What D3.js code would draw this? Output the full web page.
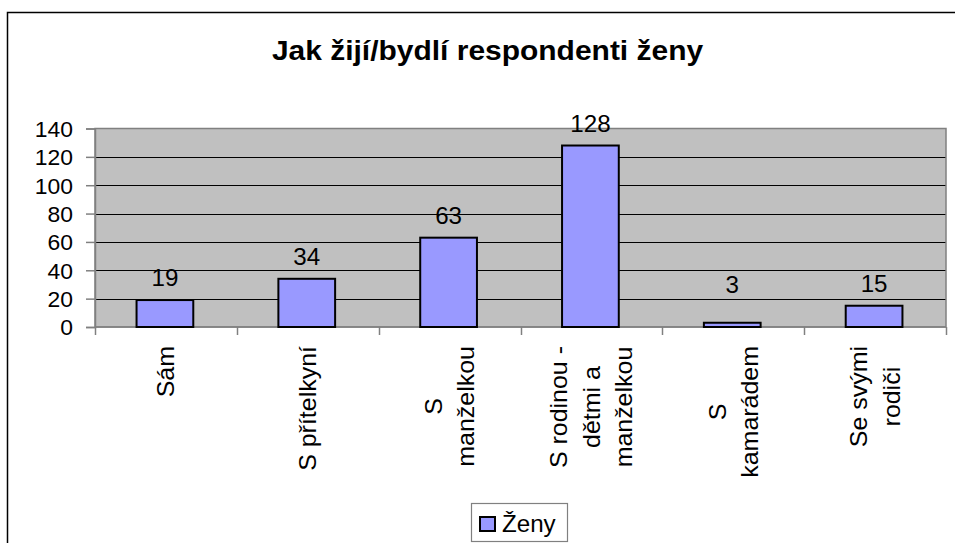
<!DOCTYPE html>
<html>
<head>
<meta charset="utf-8">
<script src="https://cdn.jsdelivr.net/npm/d3@7/dist/d3.min.js"></script>
<style>
  html, body { margin: 0; padding: 0; background: #fff; }
  svg { display: block; }
  text { font-family: "Liberation Sans", Arial, sans-serif; fill: #000; }
</style>
</head>
<body>
<svg id="chart" width="955" height="543"></svg>
<script>
// ---- data ----
const chartTitle = "Jak žijí/bydlí respondenti ženy";
const categories = [
  ["Sám"],
  ["S přítelkyní"],
  ["S", "manželkou"],
  ["S rodinou -", "dětmi a", "manželkou"],
  ["S", "kamarádem"],
  ["Se svými", "rodiči"]
];
const seriesName = "Ženy";
const values = [19, 34, 63, 128, 3, 15];
const yTicks = [0, 20, 40, 60, 80, 100, 120, 140];

// ---- layout ----
const W = 955, H = 543;
const plot = { left: 95, right: 946, top: 128.5, bottom: 327 };
const svg = d3.select("#chart");

// outer chart border
svg.append("rect")
  .attr("x", 7.5).attr("y", 12.5)
  .attr("width", W + 20).attr("height", H + 20)
  .attr("fill", "#fff").attr("stroke", "#000").attr("stroke-width", 1.5);

const x = d3.scaleBand()
  .domain(d3.range(categories.length))
  .range([plot.left, plot.right])
  .padding(0);
const y = d3.scaleLinear().domain([0, 140]).range([plot.bottom, plot.top]);

// plot background
svg.append("rect")
  .attr("x", plot.left).attr("y", plot.top)
  .attr("width", plot.right - plot.left).attr("height", plot.bottom - plot.top)
  .attr("fill", "#C0C0C0");

// gridlines
svg.append("g").selectAll("line")
  .data(yTicks.filter(t => t > 0 && t < 140))
  .join("line")
  .attr("x1", plot.left).attr("x2", plot.right)
  .attr("y1", d => Math.round(y(d)) + 0.5).attr("y2", d => Math.round(y(d)) + 0.5)
  .attr("stroke", "#000").attr("stroke-width", 1);

// plot border
svg.append("rect")
  .attr("x", plot.left).attr("y", plot.top)
  .attr("width", plot.right - plot.left).attr("height", plot.bottom - plot.top)
  .attr("fill", "none").attr("stroke", "#808080").attr("stroke-width", 1.5);

// y axis
const yAxis = d3.axisLeft(y).tickValues(yTicks).tickSize(9).tickPadding(13).tickFormat(d3.format("d"));
const gy = svg.append("g").attr("transform", `translate(${plot.left},0)`).call(yAxis);
gy.select(".domain").attr("stroke", "#808080").attr("stroke-width", 1.5);
gy.selectAll(".tick line").attr("stroke", "#808080").attr("stroke-width", 1.5);
gy.selectAll(".tick text")
  .attr("font-size", 22)
  .attr("font-family", "Liberation Sans, Arial, sans-serif")
  .attr("fill", "#000")
  .attr("dy", "0.36em")
  .each(function() {
    const t = d3.select(this);
    const xx = +t.attr("x");
    t.attr("x", null).attr("transform", `translate(${xx},0) scale(1.04,1)`);
  });

// x axis (category boundary ticks)
const bounds = d3.range(categories.length + 1).map(i => plot.left + i * x.step());
svg.append("line")
  .attr("x1", plot.left).attr("x2", plot.right)
  .attr("y1", plot.bottom).attr("y2", plot.bottom)
  .attr("stroke", "#808080").attr("stroke-width", 1.5);
svg.append("g").selectAll("line").data(bounds).join("line")
  .attr("x1", d => Math.round(d) + 0.5).attr("x2", d => Math.round(d) + 0.5)
  .attr("y1", plot.bottom).attr("y2", plot.bottom + 8)
  .attr("stroke", "#808080").attr("stroke-width", 1.5);

// bars
const barW = x.bandwidth() * 0.4;
svg.append("g").selectAll("rect").data(values).join("rect")
  .attr("x", (d, i) => x(i) + x.bandwidth() / 2 - barW / 2 - 1)
  .attr("y", d => y(d))
  .attr("width", barW)
  .attr("height", d => y(0) - y(d))
  .attr("fill", "#9999FF")
  .attr("stroke", "#000").attr("stroke-width", 2);

// data labels
svg.append("g").selectAll("text").data(values).join("text")
  .attr("text-anchor", "middle")
  .attr("font-size", 23)
  .attr("transform", (d, i) => {
    const cx = x(i) + x.bandwidth() / 2 - 1;
    const by = Math.min(y(d) - 14, y(24));
    return `translate(${cx},${by}) scale(1.05,1)`;
  })
  .text(d => d);

// category labels (rotated, wrapped)
const catFont = 24, catScale = 1.04, lineGap = 32.5, labelTop = 346;
categories.forEach((lines, i) => {
  const cx = x(i) + x.bandwidth() / 2;
  const g = svg.append("g");
  const texts = lines.map((ln, k) => g.append("text")
    .attr("font-size", catFont)
    .attr("text-anchor", "middle")
    .text(ln));
  const maxLen = d3.max(texts, t => t.node().getComputedTextLength()) * catScale;
  const cy = labelTop + maxLen / 2;
  texts.forEach((t, k) => {
    const bx = cx + (k - (lines.length - 1) / 2) * lineGap + 8.5;
    t.attr("transform", `translate(${bx},${cy}) rotate(-90) scale(${catScale},1)`);
  });
});

// title
svg.append("text")
  .attr("text-anchor", "middle")
  .attr("font-size", 27)
  .attr("font-weight", "bold")
  .attr("transform", `translate(487.5,60) scale(1.11,1)`)
  .text(chartTitle);

// legend
const lg = svg.append("g");
lg.append("rect")
  .attr("x", 471.5).attr("y", 503.5).attr("width", 96).attr("height", 38)
  .attr("fill", "#fff").attr("stroke", "#808080").attr("stroke-width", 1.2);
lg.append("rect")
  .attr("x", 480).attr("y", 517).attr("width", 15).attr("height", 14)
  .attr("fill", "#9999FF").attr("stroke", "#000").attr("stroke-width", 2);
lg.append("text")
  .attr("font-size", 23)
  .attr("transform", `translate(502,532) scale(1.05,1)`)
  .text(seriesName);
</script>
</body>
</html>
